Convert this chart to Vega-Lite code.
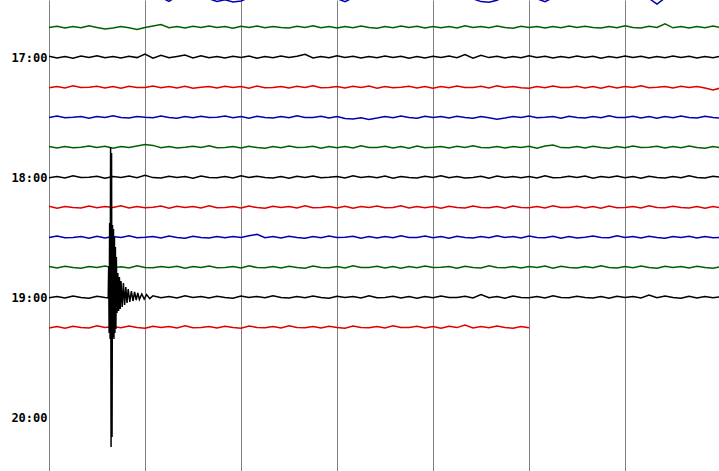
{"$schema":"https://vega.github.io/schema/vega-lite/v6.json","width":670,"height":471,"autosize":{"type":"none"},"padding":{"left":49,"top":0,"right":0,"bottom":0},"background":"white","config":{"view":{"stroke":null}},
"data":{"values":[
{"r":990,"t":0,"y":989.5},{"r":990,"t":10,"y":990.4},{"r":990,"t":20,"y":989.7},{"r":990,"t":30,"y":990.6},{"r":990,"t":40,"y":989.6},{"r":990,"t":50,"y":990.2},{"r":990,"t":60,"y":989.4},{"r":990,"t":70,"y":990.5},{"r":990,"t":80,"y":989.8},{"r":990,"t":90,"y":990.3},
{"r":990,"t":100,"y":989.5},{"r":990,"t":110,"y":990.4},{"r":990,"t":120,"y":989.7},{"r":990,"t":130,"y":990.5},{"r":990,"t":140,"y":990.2},{"r":990,"t":150,"y":992.2},{"r":990,"t":160,"y":989.6},{"r":990,"t":170,"y":990.3},{"r":990,"t":180,"y":989.5},{"r":990,"t":190,"y":990.6},
{"r":990,"t":200,"y":990.9},{"r":990,"t":210,"y":992.2},{"r":990,"t":220,"y":991.4},{"r":990,"t":230,"y":992.5},{"r":990,"t":240,"y":992.0},{"r":990,"t":250,"y":990.3},{"r":990,"t":260,"y":989.6},{"r":990,"t":270,"y":990.5},{"r":990,"t":280,"y":989.7},{"r":990,"t":290,"y":990.4},
{"r":990,"t":300,"y":989.4},{"r":990,"t":310,"y":990.3},{"r":990,"t":320,"y":989.8},{"r":990,"t":330,"y":990.5},{"r":990,"t":340,"y":989.6},{"r":990,"t":350,"y":990.3},{"r":990,"t":360,"y":990.8},{"r":990,"t":370,"y":992.3},{"r":990,"t":380,"y":990.4},{"r":990,"t":390,"y":989.7},
{"r":990,"t":400,"y":990.5},{"r":990,"t":410,"y":989.6},{"r":990,"t":420,"y":990.3},{"r":990,"t":430,"y":989.5},{"r":990,"t":440,"y":990.6},{"r":990,"t":450,"y":989.8},{"r":990,"t":460,"y":990.4},{"r":990,"t":470,"y":989.5},{"r":990,"t":480,"y":990.3},{"r":990,"t":490,"y":989.6},
{"r":990,"t":500,"y":990.5},{"r":990,"t":510,"y":989.7},{"r":990,"t":520,"y":990.4},{"r":990,"t":530,"y":990.9},{"r":990,"t":540,"y":992.3},{"r":990,"t":550,"y":992.6},{"r":990,"t":560,"y":991.6},{"r":990,"t":570,"y":989.7},{"r":990,"t":580,"y":990.5},{"r":990,"t":590,"y":989.6},
{"r":990,"t":600,"y":990.6},{"r":990,"t":610,"y":990.9},{"r":990,"t":620,"y":992.3},{"r":990,"t":630,"y":990.4},{"r":990,"t":640,"y":989.5},{"r":990,"t":650,"y":990.3},{"r":990,"t":660,"y":989.6},{"r":990,"t":670,"y":990.5},{"r":990,"t":680,"y":989.7},{"r":990,"t":690,"y":990.4},
{"r":990,"t":700,"y":989.5},{"r":990,"t":710,"y":990.3},{"r":990,"t":720,"y":989.6},{"r":990,"t":730,"y":990.6},{"r":990,"t":740,"y":989.8},{"r":990,"t":750,"y":990.7},{"r":990,"t":760,"y":993.5},{"r":990,"t":770,"y":990.5},{"r":990,"t":780,"y":989.6},{"r":990,"t":790,"y":990.3},
{"r":990,"t":800,"y":989.5},{"r":990,"t":810,"y":990.4},{"r":990,"t":820,"y":989.7},{"r":990,"t":830,"y":990.5},{"r":990,"t":840,"y":989.6},
{"r":1005,"t":0,"y":1005.3},{"r":1005,"t":10,"y":1004.6},{"r":1005,"t":20,"y":1005.5},{"r":1005,"t":30,"y":1004.8},{"r":1005,"t":40,"y":1005.4},{"r":1005,"t":50,"y":1004.4},{"r":1005,"t":60,"y":1005.2},{"r":1005,"t":70,"y":1006.0},{"r":1005,"t":80,"y":1005.5},{"r":1005,"t":90,"y":1004.7},
{"r":1005,"t":100,"y":1005.4},{"r":1005,"t":110,"y":1006.2},{"r":1005,"t":120,"y":1005.3},{"r":1005,"t":130,"y":1004.5},{"r":1005,"t":140,"y":1003.8},{"r":1005,"t":150,"y":1005.4},{"r":1005,"t":160,"y":1004.7},{"r":1005,"t":170,"y":1005.5},{"r":1005,"t":180,"y":1004.6},{"r":1005,"t":190,"y":1005.2},
{"r":1005,"t":200,"y":1004.5},{"r":1005,"t":210,"y":1005.3},{"r":1005,"t":220,"y":1004.8},{"r":1005,"t":230,"y":1005.6},{"r":1005,"t":240,"y":1004.6},{"r":1005,"t":250,"y":1005.3},{"r":1005,"t":260,"y":1004.5},{"r":1005,"t":270,"y":1005.4},{"r":1005,"t":280,"y":1004.7},{"r":1005,"t":290,"y":1005.2},
{"r":1005,"t":300,"y":1005.5},{"r":1005,"t":310,"y":1004.6},{"r":1005,"t":320,"y":1005.3},{"r":1005,"t":330,"y":1004.4},{"r":1005,"t":340,"y":1005.4},{"r":1005,"t":350,"y":1004.8},{"r":1005,"t":360,"y":1005.5},{"r":1005,"t":370,"y":1004.7},{"r":1005,"t":380,"y":1005.4},{"r":1005,"t":390,"y":1004.5},
{"r":1005,"t":400,"y":1005.2},{"r":1005,"t":410,"y":1005.6},{"r":1005,"t":420,"y":1004.7},{"r":1005,"t":430,"y":1005.4},{"r":1005,"t":440,"y":1004.5},{"r":1005,"t":450,"y":1005.3},{"r":1005,"t":460,"y":1004.6},{"r":1005,"t":470,"y":1005.5},{"r":1005,"t":480,"y":1004.8},{"r":1005,"t":490,"y":1005.4},
{"r":1005,"t":500,"y":1004.7},{"r":1005,"t":510,"y":1005.5},{"r":1005,"t":520,"y":1004.4},{"r":1005,"t":530,"y":1005.3},{"r":1005,"t":540,"y":1004.8},{"r":1005,"t":550,"y":1005.4},{"r":1005,"t":560,"y":1004.5},{"r":1005,"t":570,"y":1005.3},{"r":1005,"t":580,"y":1005.6},{"r":1005,"t":590,"y":1004.6},
{"r":1005,"t":600,"y":1005.3},{"r":1005,"t":610,"y":1004.7},{"r":1005,"t":620,"y":1005.5},{"r":1005,"t":630,"y":1004.8},{"r":1005,"t":640,"y":1005.4},{"r":1005,"t":650,"y":1004.5},{"r":1005,"t":660,"y":1005.3},{"r":1005,"t":670,"y":1004.6},{"r":1005,"t":680,"y":1005.2},{"r":1005,"t":690,"y":1005.5},
{"r":1005,"t":700,"y":1004.7},{"r":1005,"t":710,"y":1005.4},{"r":1005,"t":720,"y":1004.4},{"r":1005,"t":730,"y":1005.3},{"r":1005,"t":740,"y":1005.5},{"r":1005,"t":750,"y":1004.6},{"r":1005,"t":760,"y":1005.2},{"r":1005,"t":770,"y":1003.4},{"r":1005,"t":780,"y":1005.4},{"r":1005,"t":790,"y":1004.7},
{"r":1005,"t":800,"y":1005.5},{"r":1005,"t":810,"y":1004.8},{"r":1005,"t":820,"y":1005.4},{"r":1005,"t":830,"y":1004.5},{"r":1005,"t":840,"y":1005.3},
{"r":1020,"t":0,"y":1019.6},{"r":1020,"t":10,"y":1020.5},{"r":1020,"t":20,"y":1019.7},{"r":1020,"t":30,"y":1020.6},{"r":1020,"t":40,"y":1019.5},{"r":1020,"t":50,"y":1020.3},{"r":1020,"t":60,"y":1019.4},{"r":1020,"t":70,"y":1020.4},{"r":1020,"t":80,"y":1019.8},{"r":1020,"t":90,"y":1020.5},
{"r":1020,"t":100,"y":1019.6},{"r":1020,"t":110,"y":1020.3},{"r":1020,"t":120,"y":1018.5},{"r":1020,"t":130,"y":1020.6},{"r":1020,"t":140,"y":1019.2},{"r":1020,"t":150,"y":1020.4},{"r":1020,"t":160,"y":1019.7},{"r":1020,"t":170,"y":1019.0},{"r":1020,"t":180,"y":1020.5},{"r":1020,"t":190,"y":1019.4},
{"r":1020,"t":200,"y":1020.4},{"r":1020,"t":210,"y":1019.7},{"r":1020,"t":220,"y":1020.5},{"r":1020,"t":230,"y":1019.6},{"r":1020,"t":240,"y":1020.3},{"r":1020,"t":250,"y":1019.5},{"r":1020,"t":260,"y":1020.6},{"r":1020,"t":270,"y":1019.7},{"r":1020,"t":280,"y":1020.4},{"r":1020,"t":290,"y":1019.5},
{"r":1020,"t":300,"y":1020.3},{"r":1020,"t":310,"y":1019.6},{"r":1020,"t":320,"y":1018.6},{"r":1020,"t":330,"y":1020.5},{"r":1020,"t":340,"y":1019.7},{"r":1020,"t":350,"y":1020.4},{"r":1020,"t":360,"y":1019.4},{"r":1020,"t":370,"y":1020.3},{"r":1020,"t":380,"y":1019.6},{"r":1020,"t":390,"y":1020.5},
{"r":1020,"t":400,"y":1019.7},{"r":1020,"t":410,"y":1020.4},{"r":1020,"t":420,"y":1019.5},{"r":1020,"t":430,"y":1020.3},{"r":1020,"t":440,"y":1019.6},{"r":1020,"t":450,"y":1020.6},{"r":1020,"t":460,"y":1019.7},{"r":1020,"t":470,"y":1020.5},{"r":1020,"t":480,"y":1019.6},{"r":1020,"t":490,"y":1020.3},
{"r":1020,"t":500,"y":1019.5},{"r":1020,"t":510,"y":1020.4},{"r":1020,"t":520,"y":1018.8},{"r":1020,"t":530,"y":1020.6},{"r":1020,"t":540,"y":1019.1},{"r":1020,"t":550,"y":1020.3},{"r":1020,"t":560,"y":1019.6},{"r":1020,"t":570,"y":1020.5},{"r":1020,"t":580,"y":1019.7},{"r":1020,"t":590,"y":1020.4},
{"r":1020,"t":600,"y":1019.4},{"r":1020,"t":610,"y":1020.3},{"r":1020,"t":620,"y":1019.6},{"r":1020,"t":630,"y":1020.5},{"r":1020,"t":640,"y":1019.7},{"r":1020,"t":650,"y":1020.4},{"r":1020,"t":660,"y":1019.5},{"r":1020,"t":670,"y":1020.3},{"r":1020,"t":680,"y":1019.6},{"r":1020,"t":690,"y":1020.6},
{"r":1020,"t":700,"y":1019.7},{"r":1020,"t":710,"y":1020.4},{"r":1020,"t":720,"y":1019.5},{"r":1020,"t":730,"y":1020.3},{"r":1020,"t":740,"y":1019.6},{"r":1020,"t":750,"y":1020.5},{"r":1020,"t":760,"y":1019.7},{"r":1020,"t":770,"y":1020.4},{"r":1020,"t":780,"y":1019.5},{"r":1020,"t":790,"y":1020.3},
{"r":1020,"t":800,"y":1019.6},{"r":1020,"t":810,"y":1020.5},{"r":1020,"t":820,"y":1019.7},{"r":1020,"t":830,"y":1020.4},{"r":1020,"t":840,"y":1019.5},
{"r":1035,"t":0,"y":1035.4},{"r":1035,"t":10,"y":1034.7},{"r":1035,"t":20,"y":1035.5},{"r":1035,"t":30,"y":1034.4},{"r":1035,"t":40,"y":1035.3},{"r":1035,"t":50,"y":1035.1},{"r":1035,"t":60,"y":1034.6},{"r":1035,"t":70,"y":1035.5},{"r":1035,"t":80,"y":1034.7},{"r":1035,"t":90,"y":1035.6},
{"r":1035,"t":100,"y":1034.6},{"r":1035,"t":110,"y":1035.3},{"r":1035,"t":120,"y":1035.2},{"r":1035,"t":130,"y":1034.5},{"r":1035,"t":140,"y":1035.4},{"r":1035,"t":150,"y":1034.7},{"r":1035,"t":160,"y":1035.5},{"r":1035,"t":170,"y":1034.6},{"r":1035,"t":180,"y":1035.6},{"r":1035,"t":190,"y":1035.1},
{"r":1035,"t":200,"y":1034.7},{"r":1035,"t":210,"y":1035.5},{"r":1035,"t":220,"y":1034.6},{"r":1035,"t":230,"y":1035.3},{"r":1035,"t":240,"y":1034.8},{"r":1035,"t":250,"y":1035.6},{"r":1035,"t":260,"y":1034.5},{"r":1035,"t":270,"y":1035.4},{"r":1035,"t":280,"y":1035.2},{"r":1035,"t":290,"y":1034.7},
{"r":1035,"t":300,"y":1035.5},{"r":1035,"t":310,"y":1034.6},{"r":1035,"t":320,"y":1035.3},{"r":1035,"t":330,"y":1034.4},{"r":1035,"t":340,"y":1035.4},{"r":1035,"t":350,"y":1035.2},{"r":1035,"t":360,"y":1034.7},{"r":1035,"t":370,"y":1035.5},{"r":1035,"t":380,"y":1034.6},{"r":1035,"t":390,"y":1035.3},
{"r":1035,"t":400,"y":1034.5},{"r":1035,"t":410,"y":1035.6},{"r":1035,"t":420,"y":1034.7},{"r":1035,"t":430,"y":1035.4},{"r":1035,"t":440,"y":1035.1},{"r":1035,"t":450,"y":1034.6},{"r":1035,"t":460,"y":1035.5},{"r":1035,"t":470,"y":1034.7},{"r":1035,"t":480,"y":1035.6},{"r":1035,"t":490,"y":1034.8},
{"r":1035,"t":500,"y":1035.4},{"r":1035,"t":510,"y":1034.5},{"r":1035,"t":520,"y":1035.3},{"r":1035,"t":530,"y":1035.2},{"r":1035,"t":540,"y":1034.6},{"r":1035,"t":550,"y":1035.5},{"r":1035,"t":560,"y":1034.4},{"r":1035,"t":570,"y":1035.3},{"r":1035,"t":580,"y":1034.7},{"r":1035,"t":590,"y":1035.4},
{"r":1035,"t":600,"y":1035.6},{"r":1035,"t":610,"y":1034.7},{"r":1035,"t":620,"y":1035.4},{"r":1035,"t":630,"y":1034.5},{"r":1035,"t":640,"y":1035.2},{"r":1035,"t":650,"y":1035.3},{"r":1035,"t":660,"y":1034.6},{"r":1035,"t":670,"y":1035.5},{"r":1035,"t":680,"y":1034.7},{"r":1035,"t":690,"y":1035.6},
{"r":1035,"t":700,"y":1034.6},{"r":1035,"t":710,"y":1035.5},{"r":1035,"t":720,"y":1034.8},{"r":1035,"t":730,"y":1035.3},{"r":1035,"t":740,"y":1034.4},{"r":1035,"t":750,"y":1035.4},{"r":1035,"t":760,"y":1035.1},{"r":1035,"t":770,"y":1034.7},{"r":1035,"t":780,"y":1035.5},{"r":1035,"t":790,"y":1034.6},
{"r":1035,"t":800,"y":1035.3},{"r":1035,"t":810,"y":1034.7},{"r":1035,"t":820,"y":1035.5},{"r":1035,"t":830,"y":1036.5},{"r":1035,"t":840,"y":1035.4},
{"r":1050,"t":0,"y":1050.2},{"r":1050,"t":10,"y":1049.5},{"r":1050,"t":20,"y":1050.4},{"r":1050,"t":30,"y":1050.1},{"r":1050,"t":40,"y":1049.7},{"r":1050,"t":50,"y":1050.6},{"r":1050,"t":60,"y":1049.8},{"r":1050,"t":70,"y":1050.3},{"r":1050,"t":80,"y":1049.4},{"r":1050,"t":90,"y":1050.2},
{"r":1050,"t":100,"y":1050.5},{"r":1050,"t":110,"y":1049.7},{"r":1050,"t":120,"y":1050.1},{"r":1050,"t":130,"y":1050.4},{"r":1050,"t":140,"y":1049.5},{"r":1050,"t":150,"y":1050.3},{"r":1050,"t":160,"y":1050.6},{"r":1050,"t":170,"y":1049.8},{"r":1050,"t":180,"y":1050.4},{"r":1050,"t":190,"y":1049.6},
{"r":1050,"t":200,"y":1050.3},{"r":1050,"t":210,"y":1050.1},{"r":1050,"t":220,"y":1049.5},{"r":1050,"t":230,"y":1050.4},{"r":1050,"t":240,"y":1049.8},{"r":1050,"t":250,"y":1050.6},{"r":1050,"t":260,"y":1049.6},{"r":1050,"t":270,"y":1050.2},{"r":1050,"t":280,"y":1050.5},{"r":1050,"t":290,"y":1049.7},
{"r":1050,"t":300,"y":1050.4},{"r":1050,"t":310,"y":1049.4},{"r":1050,"t":320,"y":1050.2},{"r":1050,"t":330,"y":1050.3},{"r":1050,"t":340,"y":1049.6},{"r":1050,"t":350,"y":1050.5},{"r":1050,"t":360,"y":1049.8},{"r":1050,"t":370,"y":1050.7},{"r":1050,"t":380,"y":1051.0},{"r":1050,"t":390,"y":1050.4},
{"r":1050,"t":400,"y":1051.2},{"r":1050,"t":410,"y":1050.5},{"r":1050,"t":420,"y":1049.7},{"r":1050,"t":430,"y":1050.4},{"r":1050,"t":440,"y":1049.5},{"r":1050,"t":450,"y":1050.2},{"r":1050,"t":460,"y":1050.6},{"r":1050,"t":470,"y":1049.6},{"r":1050,"t":480,"y":1050.3},{"r":1050,"t":490,"y":1049.8},
{"r":1050,"t":500,"y":1050.5},{"r":1050,"t":510,"y":1049.6},{"r":1050,"t":520,"y":1050.2},{"r":1050,"t":530,"y":1050.6},{"r":1050,"t":540,"y":1049.7},{"r":1050,"t":550,"y":1050.4},{"r":1050,"t":560,"y":1051.1},{"r":1050,"t":570,"y":1050.5},{"r":1050,"t":580,"y":1049.7},{"r":1050,"t":590,"y":1050.2},
{"r":1050,"t":600,"y":1049.5},{"r":1050,"t":610,"y":1050.4},{"r":1050,"t":620,"y":1050.1},{"r":1050,"t":630,"y":1049.7},{"r":1050,"t":640,"y":1050.6},{"r":1050,"t":650,"y":1049.6},{"r":1050,"t":660,"y":1050.3},{"r":1050,"t":670,"y":1050.5},{"r":1050,"t":680,"y":1049.8},{"r":1050,"t":690,"y":1050.4},
{"r":1050,"t":700,"y":1049.4},{"r":1050,"t":710,"y":1050.3},{"r":1050,"t":720,"y":1050.2},{"r":1050,"t":730,"y":1049.6},{"r":1050,"t":740,"y":1050.5},{"r":1050,"t":750,"y":1049.7},{"r":1050,"t":760,"y":1050.6},{"r":1050,"t":770,"y":1049.8},{"r":1050,"t":780,"y":1050.4},{"r":1050,"t":790,"y":1049.5},
{"r":1050,"t":800,"y":1050.3},{"r":1050,"t":810,"y":1050.5},{"r":1050,"t":820,"y":1049.6},{"r":1050,"t":830,"y":1050.2},{"r":1050,"t":840,"y":1050.6},
{"r":1065,"t":0,"y":1064.7},{"r":1065,"t":10,"y":1065.5},{"r":1065,"t":20,"y":1064.8},{"r":1065,"t":30,"y":1065.4},{"r":1065,"t":40,"y":1065.1},{"r":1065,"t":50,"y":1064.5},{"r":1065,"t":60,"y":1065.3},{"r":1065,"t":70,"y":1064.6},{"r":1065,"t":80,"y":1065.6},{"r":1065,"t":90,"y":1064.8},
{"r":1065,"t":100,"y":1065.3},{"r":1065,"t":110,"y":1064.5},{"r":1065,"t":120,"y":1063.8},{"r":1065,"t":130,"y":1064.2},{"r":1065,"t":140,"y":1065.4},{"r":1065,"t":150,"y":1064.7},{"r":1065,"t":160,"y":1065.5},{"r":1065,"t":170,"y":1065.1},{"r":1065,"t":180,"y":1064.6},{"r":1065,"t":190,"y":1065.3},
{"r":1065,"t":200,"y":1064.4},{"r":1065,"t":210,"y":1065.4},{"r":1065,"t":220,"y":1065.2},{"r":1065,"t":230,"y":1064.7},{"r":1065,"t":240,"y":1065.5},{"r":1065,"t":250,"y":1064.6},{"r":1065,"t":260,"y":1065.3},{"r":1065,"t":270,"y":1065.6},{"r":1065,"t":280,"y":1064.8},{"r":1065,"t":290,"y":1065.4},
{"r":1065,"t":300,"y":1064.5},{"r":1065,"t":310,"y":1065.3},{"r":1065,"t":320,"y":1065.1},{"r":1065,"t":330,"y":1064.6},{"r":1065,"t":340,"y":1065.6},{"r":1065,"t":350,"y":1064.7},{"r":1065,"t":360,"y":1065.4},{"r":1065,"t":370,"y":1064.8},{"r":1065,"t":380,"y":1065.5},{"r":1065,"t":390,"y":1064.4},
{"r":1065,"t":400,"y":1065.3},{"r":1065,"t":410,"y":1065.2},{"r":1065,"t":420,"y":1064.6},{"r":1065,"t":430,"y":1065.5},{"r":1065,"t":440,"y":1064.7},{"r":1065,"t":450,"y":1065.6},{"r":1065,"t":460,"y":1064.5},{"r":1065,"t":470,"y":1065.4},{"r":1065,"t":480,"y":1065.1},{"r":1065,"t":490,"y":1064.7},
{"r":1065,"t":500,"y":1065.5},{"r":1065,"t":510,"y":1064.6},{"r":1065,"t":520,"y":1065.3},{"r":1065,"t":530,"y":1064.4},{"r":1065,"t":540,"y":1065.2},{"r":1065,"t":550,"y":1065.4},{"r":1065,"t":560,"y":1064.7},{"r":1065,"t":570,"y":1065.5},{"r":1065,"t":580,"y":1064.8},{"r":1065,"t":590,"y":1065.3},
{"r":1065,"t":600,"y":1064.6},{"r":1065,"t":610,"y":1065.6},{"r":1065,"t":620,"y":1064.5},{"r":1065,"t":630,"y":1064.0},{"r":1065,"t":640,"y":1065.3},{"r":1065,"t":650,"y":1065.4},{"r":1065,"t":660,"y":1064.7},{"r":1065,"t":670,"y":1065.5},{"r":1065,"t":680,"y":1064.6},{"r":1065,"t":690,"y":1065.2},
{"r":1065,"t":700,"y":1065.6},{"r":1065,"t":710,"y":1064.7},{"r":1065,"t":720,"y":1065.4},{"r":1065,"t":730,"y":1064.5},{"r":1065,"t":740,"y":1065.3},{"r":1065,"t":750,"y":1065.1},{"r":1065,"t":760,"y":1064.6},{"r":1065,"t":770,"y":1065.5},{"r":1065,"t":780,"y":1064.8},{"r":1065,"t":790,"y":1065.4},
{"r":1065,"t":800,"y":1064.5},{"r":1065,"t":810,"y":1065.3},{"r":1065,"t":820,"y":1065.6},{"r":1065,"t":830,"y":1064.7},{"r":1065,"t":840,"y":1065.4},
{"r":1080,"t":0,"y":1080.4},{"r":1080,"t":10,"y":1079.8},{"r":1080,"t":20,"y":1080.5},{"r":1080,"t":30,"y":1079.4},{"r":1080,"t":40,"y":1080.3},{"r":1080,"t":50,"y":1080.1},{"r":1080,"t":60,"y":1079.6},{"r":1080,"t":70,"y":1080.6},{"r":1080,"t":80,"y":1079.7},{"r":1080,"t":90,"y":1080.2},
{"r":1080,"t":100,"y":1079.5},{"r":1080,"t":110,"y":1080.4},{"r":1080,"t":120,"y":1079.2},{"r":1080,"t":130,"y":1080.3},{"r":1080,"t":140,"y":1080.5},{"r":1080,"t":150,"y":1079.6},{"r":1080,"t":160,"y":1080.2},{"r":1080,"t":170,"y":1079.7},{"r":1080,"t":180,"y":1080.6},{"r":1080,"t":190,"y":1079.5},
{"r":1080,"t":200,"y":1080.3},{"r":1080,"t":210,"y":1080.4},{"r":1080,"t":220,"y":1079.8},{"r":1080,"t":230,"y":1080.5},{"r":1080,"t":240,"y":1079.4},{"r":1080,"t":250,"y":1080.3},{"r":1080,"t":260,"y":1079.6},{"r":1080,"t":270,"y":1080.2},{"r":1080,"t":280,"y":1080.5},{"r":1080,"t":290,"y":1079.7},
{"r":1080,"t":300,"y":1080.6},{"r":1080,"t":310,"y":1079.6},{"r":1080,"t":320,"y":1080.3},{"r":1080,"t":330,"y":1079.5},{"r":1080,"t":340,"y":1080.4},{"r":1080,"t":350,"y":1080.1},{"r":1080,"t":360,"y":1079.7},{"r":1080,"t":370,"y":1080.5},{"r":1080,"t":380,"y":1079.4},{"r":1080,"t":390,"y":1080.3},
{"r":1080,"t":400,"y":1079.8},{"r":1080,"t":410,"y":1080.4},{"r":1080,"t":420,"y":1079.5},{"r":1080,"t":430,"y":1080.6},{"r":1080,"t":440,"y":1079.7},{"r":1080,"t":450,"y":1080.2},{"r":1080,"t":460,"y":1080.5},{"r":1080,"t":470,"y":1079.6},{"r":1080,"t":480,"y":1080.3},{"r":1080,"t":490,"y":1079.4},
{"r":1080,"t":500,"y":1080.4},{"r":1080,"t":510,"y":1079.7},{"r":1080,"t":520,"y":1080.5},{"r":1080,"t":530,"y":1080.2},{"r":1080,"t":540,"y":1079.6},{"r":1080,"t":550,"y":1080.6},{"r":1080,"t":560,"y":1079.5},{"r":1080,"t":570,"y":1080.3},{"r":1080,"t":580,"y":1079.8},{"r":1080,"t":590,"y":1080.4},
{"r":1080,"t":600,"y":1079.7},{"r":1080,"t":610,"y":1080.5},{"r":1080,"t":620,"y":1079.4},{"r":1080,"t":630,"y":1080.4},{"r":1080,"t":640,"y":1080.2},{"r":1080,"t":650,"y":1079.6},{"r":1080,"t":660,"y":1080.3},{"r":1080,"t":670,"y":1079.5},{"r":1080,"t":680,"y":1080.6},{"r":1080,"t":690,"y":1079.8},
{"r":1080,"t":700,"y":1080.3},{"r":1080,"t":710,"y":1079.5},{"r":1080,"t":720,"y":1080.4},{"r":1080,"t":730,"y":1079.7},{"r":1080,"t":740,"y":1080.6},{"r":1080,"t":750,"y":1079.6},{"r":1080,"t":760,"y":1080.2},{"r":1080,"t":770,"y":1080.5},{"r":1080,"t":780,"y":1079.7},{"r":1080,"t":790,"y":1080.4},
{"r":1080,"t":800,"y":1079.4},{"r":1080,"t":810,"y":1080.3},{"r":1080,"t":820,"y":1080.5},{"r":1080,"t":830,"y":1079.6},{"r":1080,"t":840,"y":1080.2},
{"r":1095,"t":0,"y":1094.6},{"r":1095,"t":10,"y":1095.6},{"r":1095,"t":20,"y":1094.7},{"r":1095,"t":30,"y":1095.2},{"r":1095,"t":40,"y":1095.5},{"r":1095,"t":50,"y":1094.5},{"r":1095,"t":60,"y":1095.4},{"r":1095,"t":70,"y":1094.8},{"r":1095,"t":80,"y":1095.3},{"r":1095,"t":90,"y":1094.4},
{"r":1095,"t":100,"y":1095.5},{"r":1095,"t":110,"y":1094.7},{"r":1095,"t":120,"y":1095.4},{"r":1095,"t":130,"y":1095.1},{"r":1095,"t":140,"y":1094.5},{"r":1095,"t":150,"y":1095.6},{"r":1095,"t":160,"y":1094.6},{"r":1095,"t":170,"y":1095.3},{"r":1095,"t":180,"y":1094.8},{"r":1095,"t":190,"y":1095.5},
{"r":1095,"t":200,"y":1094.4},{"r":1095,"t":210,"y":1095.4},{"r":1095,"t":220,"y":1095.2},{"r":1095,"t":230,"y":1094.7},{"r":1095,"t":240,"y":1095.5},{"r":1095,"t":250,"y":1094.5},{"r":1095,"t":260,"y":1095.3},{"r":1095,"t":270,"y":1095.6},{"r":1095,"t":280,"y":1094.6},{"r":1095,"t":290,"y":1095.2},
{"r":1095,"t":300,"y":1094.7},{"r":1095,"t":310,"y":1095.5},{"r":1095,"t":320,"y":1094.4},{"r":1095,"t":330,"y":1095.4},{"r":1095,"t":340,"y":1095.3},{"r":1095,"t":350,"y":1094.8},{"r":1095,"t":360,"y":1095.5},{"r":1095,"t":370,"y":1094.6},{"r":1095,"t":380,"y":1095.6},{"r":1095,"t":390,"y":1094.7},
{"r":1095,"t":400,"y":1095.2},{"r":1095,"t":410,"y":1094.5},{"r":1095,"t":420,"y":1095.4},{"r":1095,"t":430,"y":1095.3},{"r":1095,"t":440,"y":1094.4},{"r":1095,"t":450,"y":1095.5},{"r":1095,"t":460,"y":1094.7},{"r":1095,"t":470,"y":1095.4},{"r":1095,"t":480,"y":1094.8},{"r":1095,"t":490,"y":1095.6},
{"r":1095,"t":500,"y":1094.6},{"r":1095,"t":510,"y":1095.3},{"r":1095,"t":520,"y":1095.5},{"r":1095,"t":530,"y":1094.5},{"r":1095,"t":540,"y":1095.2},{"r":1095,"t":550,"y":1095.4},{"r":1095,"t":560,"y":1094.7},{"r":1095,"t":570,"y":1095.6},{"r":1095,"t":580,"y":1094.5},{"r":1095,"t":590,"y":1095.3},
{"r":1095,"t":600,"y":1095.4},{"r":1095,"t":610,"y":1094.8},{"r":1095,"t":620,"y":1095.5},{"r":1095,"t":630,"y":1094.4},{"r":1095,"t":640,"y":1095.3},{"r":1095,"t":650,"y":1095.2},{"r":1095,"t":660,"y":1094.6},{"r":1095,"t":670,"y":1095.5},{"r":1095,"t":680,"y":1094.7},{"r":1095,"t":690,"y":1095.6},
{"r":1095,"t":700,"y":1094.5},{"r":1095,"t":710,"y":1095.4},{"r":1095,"t":720,"y":1095.3},{"r":1095,"t":730,"y":1094.7},{"r":1095,"t":740,"y":1095.5},{"r":1095,"t":750,"y":1094.4},{"r":1095,"t":760,"y":1095.2},{"r":1095,"t":770,"y":1095.4},{"r":1095,"t":780,"y":1094.6},{"r":1095,"t":790,"y":1095.3},
{"r":1095,"t":800,"y":1095.5},{"r":1095,"t":810,"y":1094.7},{"r":1095,"t":820,"y":1095.6},{"r":1095,"t":830,"y":1094.8},{"r":1095,"t":840,"y":1095.4},
{"r":1110,"t":0,"y":1110.3},{"r":1110,"t":10,"y":1109.5},{"r":1110,"t":20,"y":1110.4},{"r":1110,"t":30,"y":1110.2},{"r":1110,"t":40,"y":1109.7},{"r":1110,"t":50,"y":1110.6},{"r":1110,"t":60,"y":1109.6},{"r":1110,"t":70,"y":1110.5},{"r":1110,"t":80,"y":1109.8},{"r":1110,"t":90,"y":1110.3},
{"r":1110,"t":100,"y":1109.4},{"r":1110,"t":110,"y":1110.4},{"r":1110,"t":120,"y":1110.1},{"r":1110,"t":130,"y":1109.7},{"r":1110,"t":140,"y":1110.5},{"r":1110,"t":150,"y":1109.5},{"r":1110,"t":160,"y":1110.3},{"r":1110,"t":170,"y":1110.6},{"r":1110,"t":180,"y":1109.6},{"r":1110,"t":190,"y":1110.2},
{"r":1110,"t":200,"y":1110.5},{"r":1110,"t":210,"y":1109.7},{"r":1110,"t":220,"y":1110.4},{"r":1110,"t":230,"y":1109.8},{"r":1110,"t":240,"y":1110.3},{"r":1110,"t":250,"y":1109.4},{"r":1110,"t":260,"y":1108.7},{"r":1110,"t":270,"y":1110.4},{"r":1110,"t":280,"y":1109.7},{"r":1110,"t":290,"y":1110.5},
{"r":1110,"t":300,"y":1109.6},{"r":1110,"t":310,"y":1110.2},{"r":1110,"t":320,"y":1110.6},{"r":1110,"t":330,"y":1109.7},{"r":1110,"t":340,"y":1110.4},{"r":1110,"t":350,"y":1109.5},{"r":1110,"t":360,"y":1110.3},{"r":1110,"t":370,"y":1110.1},{"r":1110,"t":380,"y":1109.6},{"r":1110,"t":390,"y":1110.6},
{"r":1110,"t":400,"y":1109.8},{"r":1110,"t":410,"y":1110.5},{"r":1110,"t":420,"y":1109.7},{"r":1110,"t":430,"y":1110.4},{"r":1110,"t":440,"y":1109.4},{"r":1110,"t":450,"y":1110.3},{"r":1110,"t":460,"y":1110.2},{"r":1110,"t":470,"y":1109.5},{"r":1110,"t":480,"y":1110.4},{"r":1110,"t":490,"y":1109.7},
{"r":1110,"t":500,"y":1110.6},{"r":1110,"t":510,"y":1109.6},{"r":1110,"t":520,"y":1110.3},{"r":1110,"t":530,"y":1110.5},{"r":1110,"t":540,"y":1109.8},{"r":1110,"t":550,"y":1110.4},{"r":1110,"t":560,"y":1109.4},{"r":1110,"t":570,"y":1110.3},{"r":1110,"t":580,"y":1109.7},{"r":1110,"t":590,"y":1110.5},
{"r":1110,"t":600,"y":1109.5},{"r":1110,"t":610,"y":1110.2},{"r":1110,"t":620,"y":1110.4},{"r":1110,"t":630,"y":1109.6},{"r":1110,"t":640,"y":1110.6},{"r":1110,"t":650,"y":1109.7},{"r":1110,"t":660,"y":1110.5},{"r":1110,"t":670,"y":1110.1},{"r":1110,"t":680,"y":1109.5},{"r":1110,"t":690,"y":1110.3},
{"r":1110,"t":700,"y":1110.4},{"r":1110,"t":710,"y":1109.4},{"r":1110,"t":720,"y":1110.3},{"r":1110,"t":730,"y":1109.8},{"r":1110,"t":740,"y":1110.5},{"r":1110,"t":750,"y":1109.6},{"r":1110,"t":760,"y":1110.3},{"r":1110,"t":770,"y":1110.6},{"r":1110,"t":780,"y":1109.7},{"r":1110,"t":790,"y":1110.2},
{"r":1110,"t":800,"y":1109.6},{"r":1110,"t":810,"y":1110.5},{"r":1110,"t":820,"y":1109.7},{"r":1110,"t":830,"y":1110.4},{"r":1110,"t":840,"y":1110.2},
{"r":1125,"t":0,"y":1124.8},{"r":1125,"t":10,"y":1125.5},{"r":1125,"t":20,"y":1124.6},{"r":1125,"t":30,"y":1125.3},{"r":1125,"t":40,"y":1125.6},{"r":1125,"t":50,"y":1124.7},{"r":1125,"t":60,"y":1125.2},{"r":1125,"t":70,"y":1124.5},{"r":1125,"t":80,"y":1125.4},{"r":1125,"t":90,"y":1124.9},
{"r":1125,"t":100,"y":1125.5},{"r":1125,"t":110,"y":1124.4},{"r":1125,"t":120,"y":1125.3},{"r":1125,"t":130,"y":1125.4},{"r":1125,"t":140,"y":1124.7},{"r":1125,"t":150,"y":1125.2},{"r":1125,"t":160,"y":1124.6},{"r":1125,"t":170,"y":1125.6},{"r":1125,"t":180,"y":1124.8},{"r":1125,"t":190,"y":1125.3},
{"r":1125,"t":200,"y":1124.5},{"r":1125,"t":210,"y":1125.4},{"r":1125,"t":220,"y":1125.2},{"r":1125,"t":230,"y":1124.7},{"r":1125,"t":240,"y":1125.5},{"r":1125,"t":250,"y":1124.4},{"r":1125,"t":260,"y":1125.3},{"r":1125,"t":270,"y":1125.4},{"r":1125,"t":280,"y":1124.8},{"r":1125,"t":290,"y":1125.5},
{"r":1125,"t":300,"y":1124.6},{"r":1125,"t":310,"y":1125.3},{"r":1125,"t":320,"y":1125.6},{"r":1125,"t":330,"y":1124.5},{"r":1125,"t":340,"y":1125.2},{"r":1125,"t":350,"y":1125.4},{"r":1125,"t":360,"y":1124.7},{"r":1125,"t":370,"y":1125.5},{"r":1125,"t":380,"y":1124.4},{"r":1125,"t":390,"y":1125.3},
{"r":1125,"t":400,"y":1125.2},{"r":1125,"t":410,"y":1124.6},{"r":1125,"t":420,"y":1125.5},{"r":1125,"t":430,"y":1124.7},{"r":1125,"t":440,"y":1125.6},{"r":1125,"t":450,"y":1124.8},{"r":1125,"t":460,"y":1125.4},{"r":1125,"t":470,"y":1124.5},{"r":1125,"t":480,"y":1125.3},{"r":1125,"t":490,"y":1125.1},
{"r":1125,"t":500,"y":1124.7},{"r":1125,"t":510,"y":1125.6},{"r":1125,"t":520,"y":1124.6},{"r":1125,"t":530,"y":1125.3},{"r":1125,"t":540,"y":1125.5},{"r":1125,"t":550,"y":1124.4},{"r":1125,"t":560,"y":1125.2},{"r":1125,"t":570,"y":1125.4},{"r":1125,"t":580,"y":1124.7},{"r":1125,"t":590,"y":1125.5},
{"r":1125,"t":600,"y":1124.8},{"r":1125,"t":610,"y":1125.3},{"r":1125,"t":620,"y":1124.5},{"r":1125,"t":630,"y":1125.6},{"r":1125,"t":640,"y":1124.6},{"r":1125,"t":650,"y":1125.2},{"r":1125,"t":660,"y":1125.5},{"r":1125,"t":670,"y":1124.7},{"r":1125,"t":680,"y":1125.4},{"r":1125,"t":690,"y":1124.4},
{"r":1125,"t":700,"y":1125.3},{"r":1125,"t":710,"y":1125.5},{"r":1125,"t":720,"y":1124.8},{"r":1125,"t":730,"y":1125.4},{"r":1125,"t":740,"y":1124.5},{"r":1125,"t":750,"y":1125.3},{"r":1125,"t":760,"y":1125.6},{"r":1125,"t":770,"y":1124.6},{"r":1125,"t":780,"y":1125.2},{"r":1125,"t":790,"y":1124.7},
{"r":1125,"t":800,"y":1125.5},{"r":1125,"t":810,"y":1124.6},{"r":1125,"t":820,"y":1125.3},{"r":1125,"t":830,"y":1125.6},{"r":1125,"t":840,"y":1124.8},
{"r":1140,"t":0,"y":1140.4},{"r":1140,"t":10,"y":1139.7},{"r":1140,"t":20,"y":1140.5},{"r":1140,"t":30,"y":1139.5},{"r":1140,"t":40,"y":1140.3},{"r":1140,"t":50,"y":1140.6},{"r":1140,"t":60,"y":1139.6},{"r":1140,"t":70,"y":1140.3},
{"r":1140,"t":74,"y":1140.5},{"r":1140,"t":74.6,"y":1125},{"r":1140,"t":75.2,"y":1158},{"r":1140,"t":75.8,"y":1103},{"r":1140,"t":76.4,"y":1161},{"r":1140,"t":77,"y":1065},{"r":1140,"t":77.6,"y":1215},{"r":1140,"t":78.2,"y":1068},{"r":1140,"t":78.8,"y":1210},{"r":1140,"t":79.4,"y":1104},
{"r":1140,"t":80,"y":1160},{"r":1140,"t":80.6,"y":1106},{"r":1140,"t":81.2,"y":1161},{"r":1140,"t":81.8,"y":1110},{"r":1140,"t":82.4,"y":1158},{"r":1140,"t":83,"y":1115},{"r":1140,"t":83.6,"y":1156},{"r":1140,"t":84.2,"y":1120},
{"r":1140,"t":85,"y":1148},{"r":1140,"t":86,"y":1128},{"r":1140,"t":87,"y":1147},{"r":1140,"t":88,"y":1130},{"r":1140,"t":89,"y":1146},{"r":1140,"t":90,"y":1132},{"r":1140,"t":91.5,"y":1145},{"r":1140,"t":93,"y":1133},{"r":1140,"t":94.5,"y":1144},{"r":1140,"t":96,"y":1135},
{"r":1140,"t":97.5,"y":1143},{"r":1140,"t":99,"y":1136},{"r":1140,"t":101,"y":1142.5},{"r":1140,"t":103,"y":1137},{"r":1140,"t":105,"y":1142},{"r":1140,"t":107,"y":1137.5},{"r":1140,"t":109,"y":1141.5},{"r":1140,"t":111,"y":1138},{"r":1140,"t":113,"y":1141.2},{"r":1140,"t":116,"y":1138.5},
{"r":1140,"t":119,"y":1141},{"r":1140,"t":122,"y":1138.8},{"r":1140,"t":126,"y":1140.8},{"r":1140,"t":130,"y":1139.4},
{"r":1140,"t":140,"y":1140.4},{"r":1140,"t":150,"y":1139.7},{"r":1140,"t":160,"y":1140.5},{"r":1140,"t":170,"y":1139.4},{"r":1140,"t":180,"y":1140.3},{"r":1140,"t":190,"y":1139.8},
{"r":1140,"t":200,"y":1140.5},{"r":1140,"t":210,"y":1139.6},{"r":1140,"t":220,"y":1140.3},{"r":1140,"t":230,"y":1140.6},{"r":1140,"t":240,"y":1139.5},{"r":1140,"t":250,"y":1140.2},{"r":1140,"t":260,"y":1139.7},{"r":1140,"t":270,"y":1140.4},{"r":1140,"t":280,"y":1139.4},{"r":1140,"t":290,"y":1140.3},
{"r":1140,"t":300,"y":1140.5},{"r":1140,"t":310,"y":1139.8},{"r":1140,"t":320,"y":1140.4},{"r":1140,"t":330,"y":1139.5},{"r":1140,"t":340,"y":1140.3},{"r":1140,"t":350,"y":1140.6},{"r":1140,"t":360,"y":1139.6},{"r":1140,"t":370,"y":1140.2},{"r":1140,"t":380,"y":1139.7},{"r":1140,"t":390,"y":1140.5},
{"r":1140,"t":400,"y":1139.4},{"r":1140,"t":410,"y":1140.4},{"r":1140,"t":420,"y":1140.3},{"r":1140,"t":430,"y":1139.6},{"r":1140,"t":440,"y":1140.5},{"r":1140,"t":450,"y":1139.7},{"r":1140,"t":460,"y":1140.6},{"r":1140,"t":470,"y":1139.8},{"r":1140,"t":480,"y":1140.4},{"r":1140,"t":490,"y":1139.5},
{"r":1140,"t":500,"y":1140.3},{"r":1140,"t":510,"y":1140.2},{"r":1140,"t":520,"y":1139.6},{"r":1140,"t":530,"y":1140.5},{"r":1140,"t":540,"y":1138.8},{"r":1140,"t":550,"y":1140.4},{"r":1140,"t":560,"y":1139.7},{"r":1140,"t":570,"y":1140.6},{"r":1140,"t":580,"y":1139.5},{"r":1140,"t":590,"y":1140.3},
{"r":1140,"t":600,"y":1140.4},{"r":1140,"t":610,"y":1139.7},{"r":1140,"t":620,"y":1140.5},{"r":1140,"t":630,"y":1139.4},{"r":1140,"t":640,"y":1140.2},{"r":1140,"t":650,"y":1140.4},{"r":1140,"t":660,"y":1139.6},{"r":1140,"t":670,"y":1140.3},{"r":1140,"t":680,"y":1140.5},{"r":1140,"t":690,"y":1139.7},
{"r":1140,"t":700,"y":1140.6},{"r":1140,"t":710,"y":1139.6},{"r":1140,"t":720,"y":1140.3},{"r":1140,"t":730,"y":1139.8},{"r":1140,"t":740,"y":1140.5},{"r":1140,"t":750,"y":1139.0},{"r":1140,"t":760,"y":1140.4},{"r":1140,"t":770,"y":1139.5},{"r":1140,"t":780,"y":1140.3},{"r":1140,"t":790,"y":1140.6},
{"r":1140,"t":800,"y":1139.6},{"r":1140,"t":810,"y":1140.5},{"r":1140,"t":820,"y":1139.7},{"r":1140,"t":830,"y":1140.4},{"r":1140,"t":840,"y":1139.8},
{"r":1155,"t":0,"y":1155.5},{"r":1155,"t":10,"y":1154.7},{"r":1155,"t":20,"y":1155.6},{"r":1155,"t":30,"y":1154.6},{"r":1155,"t":40,"y":1155.2},{"r":1155,"t":50,"y":1155.5},{"r":1155,"t":60,"y":1154.4},{"r":1155,"t":70,"y":1155.3},{"r":1155,"t":80,"y":1154.8},{"r":1155,"t":90,"y":1155.4},
{"r":1155,"t":100,"y":1154.5},{"r":1155,"t":110,"y":1155.3},{"r":1155,"t":120,"y":1155.6},{"r":1155,"t":130,"y":1154.6},{"r":1155,"t":140,"y":1155.2},{"r":1155,"t":150,"y":1154.7},{"r":1155,"t":160,"y":1155.5},{"r":1155,"t":170,"y":1154.4},{"r":1155,"t":180,"y":1155.4},{"r":1155,"t":190,"y":1155.3},
{"r":1155,"t":200,"y":1154.8},{"r":1155,"t":210,"y":1155.5},{"r":1155,"t":220,"y":1154.6},{"r":1155,"t":230,"y":1155.3},{"r":1155,"t":240,"y":1155.6},{"r":1155,"t":250,"y":1154.5},{"r":1155,"t":260,"y":1155.2},{"r":1155,"t":270,"y":1155.4},{"r":1155,"t":280,"y":1154.7},{"r":1155,"t":290,"y":1155.5},
{"r":1155,"t":300,"y":1154.4},{"r":1155,"t":310,"y":1155.3},{"r":1155,"t":320,"y":1155.4},{"r":1155,"t":330,"y":1154.8},{"r":1155,"t":340,"y":1155.5},{"r":1155,"t":350,"y":1154.6},{"r":1155,"t":360,"y":1155.3},{"r":1155,"t":370,"y":1155.6},{"r":1155,"t":380,"y":1154.5},{"r":1155,"t":390,"y":1155.2},
{"r":1155,"t":400,"y":1155.4},{"r":1155,"t":410,"y":1154.7},{"r":1155,"t":420,"y":1155.5},{"r":1155,"t":430,"y":1154.4},{"r":1155,"t":440,"y":1155.3},{"r":1155,"t":450,"y":1155.2},{"r":1155,"t":460,"y":1154.6},{"r":1155,"t":470,"y":1155.5},{"r":1155,"t":480,"y":1154.7},{"r":1155,"t":490,"y":1155.6},
{"r":1155,"t":500,"y":1154.6},{"r":1155,"t":510,"y":1155.3},{"r":1155,"t":520,"y":1154.0},{"r":1155,"t":530,"y":1155.5},{"r":1155,"t":540,"y":1154.8},{"r":1155,"t":550,"y":1155.4},{"r":1155,"t":560,"y":1154.5},{"r":1155,"t":570,"y":1155.3},{"r":1155,"t":580,"y":1155.6},{"r":1155,"t":590,"y":1154.7},
{"r":1155,"t":600,"y":1155.4}
]},
"encoding":{
"x":{"field":"t","type":"quantitative","scale":{"domain":[0,837.5],"nice":false,"zero":false},"axis":{"values":[0,120,240,360,480,600,720],"grid":true,"gridColor":"#808080","gridOpacity":1,"gridWidth":1,"labels":false,"ticks":false,"domain":false,"title":null}},
"y":{"field":"y","type":"quantitative","scale":{"domain":[991.5,1227],"reverse":true,"nice":false,"zero":false},"axis":{"values":[1020,1080,1140,1200],"labelExpr":"floor(datum.value/60)+':00'","grid":false,"ticks":false,"tickSize":0,"domain":false,"title":null,"labelFont":"DejaVu Sans Mono","labelFontWeight":"bold","labelFontSize":12,"labelColor":"#000000","labelPadding":2}},
"color":{"field":"r","type":"nominal","legend":null,"scale":{"domain":[990,1005,1020,1035,1050,1065,1080,1095,1110,1125,1140,1155],"range":["#0000b0","#006000","#000000","#e00000","#0000b0","#006000","#000000","#e00000","#0000b0","#006000","#000000","#e00000"]}}
},
"layer":[
{"transform":[{"filter":"datum.r != 1140"}],"mark":{"type":"line","strokeWidth":1.5,"clip":true,"interpolate":"linear"}},
{"transform":[{"filter":"datum.r == 1140"}],"mark":{"type":"line","strokeWidth":1.5,"clip":true,"interpolate":"linear"}}
]
}
